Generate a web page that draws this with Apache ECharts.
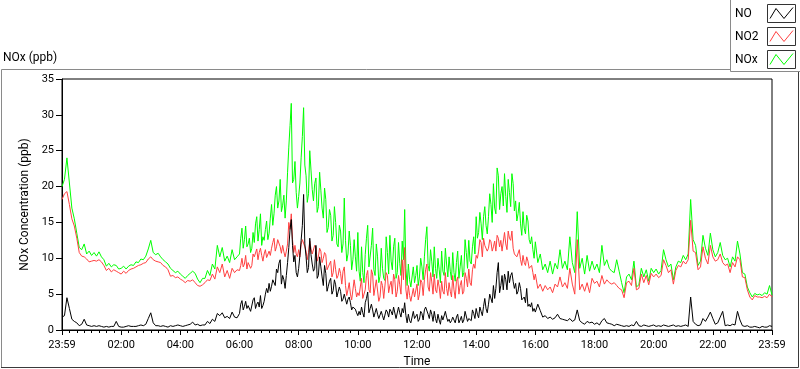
<!DOCTYPE html>
<html><head><meta charset="utf-8">
<script src="https://cdn.jsdelivr.net/npm/echarts@6/dist/echarts.min.js"></script>
<style>html,body{margin:0;padding:0;background:#fff;}#c{width:800px;height:369px;}</style>
</head><body><div id="c"></div>
<script>
// readings every 5 minutes from 23:59 (minute 0) to 23:59 next day (minute 1440)
const stepMinutes = 5;
// extra readings at the half-step (minute 362.5, 367.5, ... 957.5) in the busy 06:00-16:00 period
const fineStart = 362.5;
const xTickLabels = ["23:59","02:00","04:00","06:00","08:00","10:00","12:00","14:00","16:00","18:00","20:00","22:00","23:59"];
const seriesNames = ["NO", "NO2", "NOx"];
const seriesColors = ["#000000", "#ff4040", "#00ff00"];

const NOx = [
 20.0,21.0,24.0,20.5,17.0,15.5,13.5,11.5,11.2,12.0,10.6,11.0,
 10.4,10.8,10.3,10.9,10.2,9.8,8.9,9.3,8.8,9.1,9.0,8.5,
 8.6,8.9,8.5,8.9,9.1,9.0,9.5,9.4,9.9,9.8,10.3,11.3,
 12.5,10.8,10.5,10.7,10.2,9.8,9.5,9.2,8.6,8.3,8.0,8.2,
 7.8,7.5,7.2,7.6,7.9,8.2,7.9,7.1,6.6,7.2,7.2,8.3,
 7.6,9.2,8.5,11.8,10.2,11.5,9.6,10.3,9.4,11.2,9.8,10.2,
 10.6,14.2,12.6,11.6,12.8,11.4,12.2,15.8,14.0,11.8,12.5,15.2,
 13.5,17.5,16.2,20.0,18.0,16.5,18.8,18.0,25.5,31.6,21.0,19.2,
 18.6,24.0,31.0,21.5,19.0,22.3,18.0,21.2,17.2,19.5,15.6,18.2,
 14.3,16.0,13.2,15.0,11.6,13.8,12.0,12.5,10.6,11.8,9.8,10.2,
 13.6,6.8,8.0,10.5,14.6,9.0,14.2,7.6,10.2,7.5,8.6,6.9,
 10.8,13.2,8.4,12.8,8.0,9.3,12.4,16.8,6.2,7.0,5.8,6.6,
 9.0,7.4,8.8,10.2,14.4,8.2,9.5,11.6,7.2,8.4,11.0,7.6,
 9.2,10.2,7.0,8.0,9.4,7.2,10.4,8.0,10.8,12.5,9.2,13.0,
 15.8,13.6,14.8,15.8,14.6,15.8,17.5,20.4,16.2,21.5,19.0,17.3,
 18.6,21.0,17.2,20.4,18.0,16.2,14.8,16.5,13.4,15.2,12.0,11.2,
 12.3,9.4,10.6,8.4,9.2,8.0,9.6,7.8,9.3,8.5,11.2,8.6,
 9.6,8.4,13.0,9.4,8.0,16.5,8.6,10.0,7.8,10.4,8.2,9.6,
 8.4,9.2,8.0,11.8,9.0,9.8,8.6,8.2,8.0,9.8,8.2,6.6,
 5.2,7.4,7.8,7.0,9.6,6.0,6.3,8.6,7.4,8.4,6.8,8.6,
 8.0,8.5,7.8,8.3,11.2,9.8,8.8,9.2,7.0,8.8,9.6,9.4,
 10.4,9.8,10.6,18.2,12.6,11.8,9.0,9.6,13.2,11.4,10.4,13.5,
 11.2,10.2,10.8,12.2,10.4,9.8,10.0,8.8,10.2,9.6,12.4,10.6,
 8.0,7.8,6.0,5.2,4.6,5.1,4.9,5.0,4.8,5.2,5.0,6.2,
 4.9
];
const NOxFine = [
 12.8,11.4,14.5,12.0,10.8,13.6,14.8,12.4,16.2,13.0,14.0,12.6,
 15.6,14.6,18.8,17.0,21.0,17.4,15.6,22.0,28.5,20.5,23.5,17.0,
 20.5,27.0,23.0,17.8,25.0,19.6,20.4,16.4,22.0,17.0,19.8,13.6,
 16.8,12.4,17.2,12.0,14.6,10.8,18.4,9.6,13.8,8.4,12.6,8.2,
 8.2,11.6,6.6,12.8,8.8,11.8,8.4,12.0,6.6,11.4,7.2,13.0,
 7.8,9.6,11.6,7.2,12.2,7.6,9.8,8.6,9.2,6.0,8.8,7.6,
 6.2,10.0,7.0,12.6,9.0,11.2,7.4,8.6,10.0,6.6,8.2,11.4,
 7.4,8.2,10.8,6.8,11.0,8.8,7.4,12.6,8.6,9.6,11.6,10.6,
 12.8,16.4,12.6,17.2,13.4,19.0,15.0,17.0,22.6,16.8,20.0,21.8,
 16.4,19.2,21.8,16.6,15.2,17.8,13.2,14.2,16.0,12.6,13.0,10.0
];
const NO2 = [
 18.2,19.0,19.3,17.5,15.5,14.5,12.8,10.8,10.3,10.2,9.9,9.5,
 9.6,9.7,9.6,9.8,9.5,9.0,8.3,8.6,8.1,8.4,8.2,8.0,
 7.8,8.2,7.9,8.3,8.5,8.6,8.8,9.0,9.1,9.3,9.4,9.9,
 10.2,9.8,9.6,9.5,9.4,9.0,8.8,8.4,7.5,7.6,7.3,7.4,
 7.1,6.9,6.6,6.9,6.8,7.0,6.6,6.2,6.1,6.3,6.6,7.0,
 6.9,7.8,7.1,8.8,8.0,9.2,7.4,8.3,7.2,8.6,8.0,8.4,
 8.3,10.0,9.2,8.5,9.6,9.0,10.2,11.3,10.8,10.4,10.6,10.1,
 11.0,11.4,12.8,11.6,12.4,10.7,10.9,11.0,15.0,16.2,10.8,10.6,
 11.2,11.9,12.5,11.0,10.8,11.3,10.4,11.5,10.2,11.0,10.0,10.5,
 8.8,9.6,8.0,8.4,7.6,7.9,8.2,6.2,5.6,5.0,4.4,5.8,
 5.2,4.6,4.4,5.6,8.3,5.2,7.8,5.0,7.2,4.6,6.2,4.4,
 7.6,6.2,5.0,7.0,5.4,6.3,9.8,11.5,4.3,4.8,4.0,4.6,
 6.4,5.0,6.6,7.0,9.2,5.4,6.7,7.8,5.2,6.0,6.8,5.0,
 5.8,6.6,4.6,5.6,6.8,5.0,6.9,5.4,7.2,8.5,6.2,9.2,
 10.4,11.0,12.2,12.8,12.0,11.4,12.3,11.6,11.0,12.8,12.5,11.2,
 12.0,13.8,12.5,11.4,10.6,10.0,9.8,10.4,9.0,9.6,8.4,8.0,
 7.8,5.8,6.4,5.4,6.2,5.6,6.0,5.2,6.4,6.0,7.4,6.0,
 6.6,5.8,8.6,6.4,5.0,12.6,5.6,6.4,5.4,6.6,5.2,7.2,
 6.5,6.8,6.0,7.6,6.4,7.0,6.6,6.4,6.6,6.2,5.8,5.6,
 4.5,6.6,6.8,6.2,8.6,5.6,5.8,7.8,6.6,7.6,6.3,7.9,
 7.4,7.8,7.3,7.6,9.8,9.0,8.0,8.4,6.4,8.3,9.0,8.8,
 9.6,9.2,9.8,15.3,11.0,10.8,8.4,8.8,11.6,10.0,9.2,11.8,
 10.2,9.6,9.8,10.6,9.4,9.0,9.2,8.0,9.4,8.8,10.2,9.8,
 7.4,7.3,5.6,4.6,4.2,4.8,4.6,4.6,4.5,4.7,4.5,5.0,
 4.6
];
const NO2Fine = [
 9.0,8.8,10.4,9.4,8.6,10.6,10.0,9.8,11.4,9.6,11.2,10.0,
 10.4,12.2,11.0,12.6,11.6,11.8,10.2,12.0,14.0,12.6,11.8,10.2,
 10.2,12.6,11.6,9.8,12.4,10.6,11.8,9.6,11.4,9.4,10.8,8.4,
 9.2,7.4,9.8,7.2,8.6,6.4,8.8,4.8,6.6,4.2,7.0,4.6,
 4.8,7.2,4.2,7.6,5.6,8.4,4.8,7.0,4.0,6.8,4.4,8.0,
 5.2,6.8,7.8,4.6,7.6,5.0,7.0,5.6,6.2,4.0,5.8,4.8,
 4.2,7.0,4.8,8.4,6.0,8.0,5.0,5.6,7.0,4.4,5.4,8.0,
 4.8,5.4,7.6,4.4,7.4,6.2,5.0,8.0,6.0,6.6,8.4,8.6,
 10.0,12.6,10.2,11.8,11.0,12.6,11.0,12.4,13.2,11.6,11.0,13.6,
 11.2,12.8,13.8,10.6,10.2,11.2,9.0,9.4,10.2,8.6,9.0,7.0
];
const NO = [
 1.8,2.0,4.5,3.0,1.5,1.2,1.0,0.6,0.8,1.5,0.7,0.6,
 0.5,0.6,0.5,0.6,0.5,0.4,0.5,0.4,0.5,0.5,1.2,0.5,
 0.4,0.4,0.5,0.6,0.5,0.5,0.5,0.6,0.7,0.6,0.8,1.6,
 2.4,1.0,0.6,0.6,0.5,0.6,0.5,0.4,0.6,0.5,0.6,0.7,
 0.6,0.5,0.6,0.7,0.8,1.1,0.7,0.8,0.6,0.7,0.7,1.2,
 0.9,1.5,1.2,2.3,2.0,2.4,1.7,1.9,1.6,2.5,1.8,1.7,
 2.3,4.1,3.3,3.0,3.2,2.5,4.5,3.6,3.2,3.0,4.0,5.8,
 6.5,6.1,7.2,8.5,9.3,6.4,7.0,7.6,11.5,15.4,9.5,8.0,
 8.6,12.5,18.9,10.2,8.7,10.5,8.2,11.8,7.6,8.8,6.2,7.9,
 6.1,7.2,5.5,6.3,4.7,5.4,4.3,4.8,4.3,3.8,3.2,2.9,
 2.0,2.1,2.4,3.8,5.3,3.0,2.8,2.4,2.2,1.8,2.0,1.6,
 2.5,2.9,2.1,3.3,1.7,2.4,3.0,3.8,1.0,1.3,1.0,1.6,
 2.2,1.5,2.3,2.8,3.0,1.6,2.2,2.6,1.0,1.4,2.0,1.2,
 1.8,1.5,1.3,1.6,1.8,1.0,1.9,1.4,2.4,1.6,1.3,2.3,
 3.0,1.7,2.6,3.3,3.0,3.6,5.0,6.2,5.8,9.4,6.2,5.6,
 7.0,8.2,7.6,6.8,6.5,5.4,5.8,4.0,3.8,3.3,3.2,2.6,
 2.5,3.6,2.7,1.8,2.0,1.6,1.8,1.5,1.7,2.2,1.6,1.5,
 1.4,1.3,1.6,1.2,1.4,2.8,1.3,1.0,0.8,1.2,1.0,1.1,
 0.8,1.0,0.7,1.3,1.6,1.0,0.9,0.8,0.6,0.8,0.7,0.6,
 0.5,0.6,0.5,0.7,0.6,1.2,0.6,0.5,0.7,0.6,0.5,0.6,
 0.7,0.5,0.6,0.5,0.7,0.6,0.5,0.6,0.7,0.5,0.6,0.5,
 0.6,0.7,0.5,4.6,1.2,0.8,0.6,0.7,1.6,1.2,1.8,2.5,
 1.6,0.8,1.0,1.8,2.6,0.6,0.7,0.6,0.8,0.7,2.6,1.4,
 0.6,0.5,0.6,0.4,0.4,0.5,0.4,0.3,0.5,0.4,0.4,0.6,
 0.5
];
const NOFine = [
 3.6,2.8,4.0,3.4,2.6,4.2,3.0,3.9,4.8,3.4,5.0,5.2,
 5.4,7.0,6.2,8.0,9.8,7.6,5.8,9.4,14.0,11.8,10.4,7.4,
 10.4,14.6,12.0,8.0,12.8,9.2,8.6,7.2,10.2,7.4,9.0,5.4,
 6.8,5.0,7.0,4.6,6.0,4.0,5.0,3.6,4.6,2.8,3.4,2.4,
 2.6,3.2,1.8,4.4,2.4,3.6,1.8,3.0,1.6,2.6,1.4,2.8,
 1.8,2.6,3.2,1.6,3.2,1.8,2.4,2.0,2.2,1.0,2.6,1.8,
 1.2,2.6,1.4,3.2,2.2,2.8,1.2,1.6,2.2,0.8,1.4,2.6,
 1.2,1.0,1.8,1.0,2.2,1.4,1.0,2.6,1.2,1.6,2.8,1.6,
 2.2,3.2,2.0,4.4,2.4,5.0,3.8,4.4,8.0,5.2,7.6,7.8,
 5.6,6.6,8.0,5.8,5.0,6.6,4.2,4.6,5.8,3.6,3.8,3.0
];

const FONT = 'Roboto, "Noto Sans", sans-serif';
function toPairs(main, fine){
  const pts = main.map((v,i)=>[i*stepMinutes, v]);
  fine.forEach((v,k)=>pts.push([fineStart + k*stepMinutes, v]));
  pts.sort((a,b)=>a[0]-b[0]);
  return pts;
}
const seriesData = [toPairs(NO, NOFine), toPairs(NO2, NO2Fine), toPairs(NOx, NOxFine)];

const chart = echarts.init(document.getElementById('c'), null, {renderer:'canvas'});

const legendChildren = [
  {type:'rect', shape:{x:730.5, y:-1.5, width:70, height:73}, style:{fill:'#fff', stroke:'#8a8a8a', lineWidth:1}}
];
seriesNames.forEach((n, i) => {
  const y0 = 4.5 + i*23;
  legendChildren.push({type:'text', style:{text:n, x:735, y:y0+9, verticalAlign:'middle', fill:'#000', font:'12px '+FONT}});
  legendChildren.push({type:'rect', shape:{x:767.5, y:y0, width:28, height:18}, style:{fill:'#fff', stroke:'#333', lineWidth:1}});
  legendChildren.push({type:'polyline', shape:{points:[[770,y0+14],[776,y0+4],[784,y0+14],[793,y0+3]]}, style:{stroke:seriesColors[i], lineWidth:1, fill:null}});
});

const option = {
  animation:false,
  textStyle:{fontFamily:FONT},
  title:{text:'NOx (ppb)', left:3, top:52, padding:0, textStyle:{fontSize:12, fontWeight:'normal', color:'#000', fontFamily:FONT}},
  grid:{left:62, right:28, top:79, bottom:39, containLabel:false, outerBoundsMode:'none',
        show:true, borderColor:'#000', borderWidth:1, backgroundColor:'#fff'},
  xAxis:{
    type:'value', min:0, max:1440, interval:120,
    name:'Time', nameLocation:'middle', nameGap:26,
    nameTextStyle:{fontSize:12, color:'#000', fontFamily:FONT},
    axisLine:{show:true, onZero:false, lineStyle:{color:'#000', width:1}},
    axisTick:{show:true, length:5, lineStyle:{color:'#000'}},
    minorTick:{show:true, splitNumber:8, length:3, lineStyle:{color:'#000'}},
    splitLine:{show:false},
    axisLabel:{fontSize:11, color:'#000', margin:10, fontFamily:FONT, showMinLabel:true, showMaxLabel:true,
      formatter:(v)=>xTickLabels[Math.round(v/120)]}
  },
  yAxis:{
    type:'value', min:0, max:35, interval:5,
    name:'NOx Concentration (ppb)', nameLocation:'middle', nameGap:23,
    nameTextStyle:{fontSize:12, color:'#000', fontFamily:FONT},
    axisLine:{show:true, lineStyle:{color:'#000', width:1}},
    axisTick:{show:true, length:6, lineStyle:{color:'#000'}},
    splitLine:{show:false},
    axisLabel:{fontSize:11, color:'#000', margin:8, fontFamily:FONT}
  },
  graphic:[
    {type:'polyline', silent:true, z:0, shape:{points:[[1.5,368],[1.5,69.5],[731,69.5]]}, style:{stroke:'#8a8a8a', lineWidth:1, fill:null}},
    {type:'polyline', silent:true, z:0, shape:{points:[[1,367.5],[798.5,367.5],[798.5,72]]}, style:{stroke:'#3a3a3a', lineWidth:1, fill:null}},
    {type:'group', z:10, children:legendChildren}
  ],
  series:[2,1,0].map(i => ({
    name:seriesNames[i], type:'line', data:seriesData[i],
    showSymbol:false, symbol:'none', z:3+(2-i),
    lineStyle:{color:seriesColors[i], width:1}, itemStyle:{color:seriesColors[i]},
    emphasis:{disabled:true}
  }))
};
chart.setOption(option);
</script>
</body></html>
